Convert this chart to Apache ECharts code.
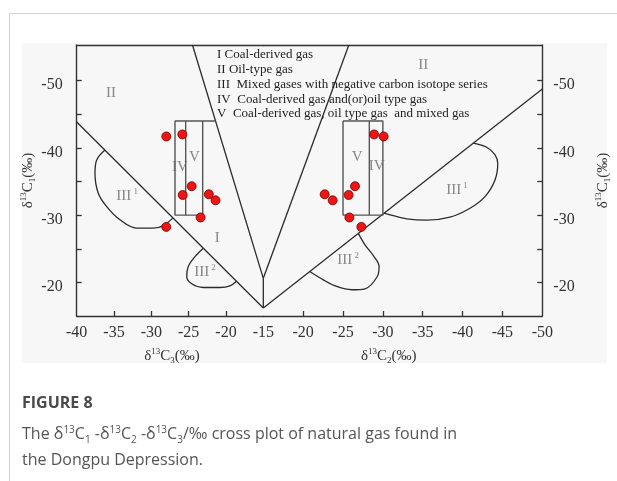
<!DOCTYPE html>
<html><head><meta charset="utf-8">
<script src="https://cdn.jsdelivr.net/npm/echarts@6/dist/echarts.min.js"></script>
<style>
html,body{margin:0;padding:0;width:617px;height:481px;background:#fff;overflow:hidden;position:relative;}
#frame{position:absolute;left:9px;top:13px;width:620px;height:480px;border-top:1px solid #d0d0d0;border-left:1px solid #d0d0d0;}
#img{position:absolute;left:22px;top:43px;width:585px;height:320px;background:#f7f7f7;}
#chart{position:absolute;left:0;top:0;width:617px;height:481px;}
.cap{position:absolute;left:22px;font-family:'Open Sans','Noto Sans',sans-serif;color:#555;white-space:nowrap;}
.cap sup,.cap sub{font-size:10px;line-height:0;}
</style></head>
<body>
<div id="frame"></div>
<div id="img"></div>
<div id="chart"></div>
<div class="cap" style="top:391px;font-size:16px;font-weight:bold;color:#4a4a4a;">FIGURE 8</div>
<div class="cap" style="top:420px;font-size:16px;line-height:26px;">The δ<sup>13</sup>C<sub>1</sub> -δ<sup>13</sup>C<sub>2</sub> -δ<sup>13</sup>C<sub>3</sub>/‰ cross plot of natural gas found in<br>the Dongpu Depression.</div>
<script>
// ---------- data ----------
const c1LabelVals = [-50, -40, -30, -20];
const c1TickVals = [-50, -45, -40, -35, -30, -25, -20];
const c3LabelVals = [-40, -35, -30, -25, -20, -15];
const c3TickVals = [-35, -30, -25, -20];
const c2LabelVals = [-20, -25, -30, -35, -40, -45, -50];
const c2TickVals = [-20, -25, -30, -35, -40, -45];

// samples (δ13C1, δ13C3, δ13C2)
const sampleC1 = [-41.7, -42.0, -34.3, -33.0, -33.1, -32.2, -29.65, -28.25];
const sampleC3 = [-28.0, -25.85, -24.6, -25.8, -22.3, -21.4, -23.4, -28.0];
const sampleC2 = [-30.1, -28.9, -26.5, -25.7, -22.7, -23.7, -25.8, -27.3];

// boundaries, left panel [δ13C3, δ13C1]
const leftOuter = [[-40, -43.86], [-15, -16.2]];
const leftInner = [[-24.49, -55.3], [-15, -20.6], [-15, -16.2]];
const leftBox = [[-21.4, -44], [-26.83, -44], [-26.83, -30], [-23.12, -30], [-23.12, -44]];
const leftBoxDiv = [[-25.4, -44], [-25.4, -30]];
const leftIII1 = [[-36.21, -39.67], [-37.32, -38.21], [-37.55, -36.24], [-37.11, -33.26], [-35.98, -31.27], [-34.2, -29.3], [-31.96, -28.06], [-29.74, -28.06], [-28.4, -28.45], [-27.1, -29.59]];
const leftIII2 = [[-23.04, -25.09], [-24.15, -23.84], [-25.05, -22.36], [-25.26, -20.87], [-24.59, -19.79], [-23.04, -19.24], [-20.8, -19.24], [-19.46, -19.49], [-18.59, -20.17]];

// boundaries, right panel [δ13C2, δ13C1]
const rightOuter = [[-15, -16.2], [-50, -48.76]];
const rightInner = [[-15, -20.6], [-25.73, -55.3]];
const rightBox = [[-25, -44], [-25, -30], [-30, -30], [-30, -44], [-25, -44]];
const rightBoxDiv = [[-28.3, -44], [-28.3, -30]];
const rightIII1 = [[-41.35, -40.71], [-43.03, -40.1], [-44.07, -38.96], [-44.41, -37.72], [-44.07, -35.24], [-42.81, -32.76], [-40.93, -31.03], [-38.42, -29.7], [-35.5, -29.25], [-32.99, -29.45], [-30.9, -30.04], [-30.14, -30.28]];
const rightIII2 = [[-26.92, -27.29], [-27.76, -25.58], [-28.89, -23.84], [-29.52, -22.36], [-29.3, -20.87], [-27.76, -19.04], [-26.09, -18.9], [-24.21, -19.39], [-22.53, -20.38], [-20.83, -21.62]];

// region labels
const leftRegionNames = ['II', 'I', 'III^1', 'III^2', 'IV', 'V'];
const leftRegionC3 = [-35.4, -21.16, -33.26, -22.81, -26.16, -24.24];
const leftRegionC1 = [-48.2, -26.58, -32.86, -21.57, -37.22, -38.58];
const rightRegionNames = ['II', 'III^1', 'III^2', 'V', 'IV'];
const rightRegionC2 = [-35.07, -39.3, -25.63, -26.79, -29.23];
const rightRegionC1 = [-52.33, -33.75, -23.35, -38.7, -37.32];

const legendLines = [
  'I Coal-derived gas',
  'II Oil-type gas',
  'III  Mixed gases with negative carbon isotope series',
  'IV  Coal-derived gas and(or)oil type gas',
  'V  Coal-derived gas, oil type gas  and mixed gas'
];

// ---------- chart ----------
const serif = '"Liberation Serif","Times New Roman",serif';
const ink = '#333';
const rich = {
  n: {fontFamily: serif, fontSize: 15, color: ink, lineHeight: 18},
  sup: {fontFamily: serif, fontSize: 9, color: ink, verticalAlign: 'top', lineHeight: 18},
  sub: {fontFamily: serif, fontSize: 9, color: ink, verticalAlign: 'bottom', lineHeight: 14}
};
const regRich = {
  r: {fontFamily: serif, fontSize: 15, color: '#6a6a6a', lineHeight: 18},
  s: {fontFamily: serif, fontSize: 9, color: '#6a6a6a', verticalAlign: 'top', lineHeight: 18}
};
function regFmt(p) {
  const parts = p.name.split('^');
  return parts.length > 1 ? '{r|' + parts[0] + '}{s| ' + parts[1] + '}' : '{r|' + parts[0] + '}';
}
function nm(sub) { return '{n|δ}{sup|13}{n|C}{sub|' + sub + '}{n|(‰)}'; }

const chart = echarts.init(document.getElementById('chart'));
const axLine = {show: true, lineStyle: {color: ink, width: 1.4}};
const yBase = {
  type: 'value', inverse: true, min: -55.3, max: -15,
  axisLine: axLine, splitLine: {show: false},
  axisTick: {show: true, inside: true, length: 5, customValues: c1TickVals, lineStyle: {color: ink, width: 1.3}},
  axisLabel: {customValues: c1LabelVals, fontFamily: serif, fontSize: 16, color: ink, verticalAlign: 'top', lineHeight: 9},
  nameLocation: 'middle', nameRotate: 90, nameTextStyle: {rich}
};
function lineSeries(data, xi, yi, smooth, color, width) {
  return {type: 'line', xAxisIndex: xi, yAxisIndex: yi, data, showSymbol: false, symbol: 'none',
    smooth: smooth ? 0.35 : false, clip: false, silent: true, z: 2,
    lineStyle: {color: color || '#2b2b2b', width: width || 1.3}};
}
const series = [
  lineSeries(leftOuter, 0, 0), lineSeries(leftInner, 0, 0),
  lineSeries(leftBox, 0, 0, false, '#555', 1.4), lineSeries(leftBoxDiv, 0, 0, false, '#555', 1.4),
  lineSeries(leftIII1, 0, 0, true), lineSeries(leftIII2, 0, 0, true),
  lineSeries(rightOuter, 1, 1), lineSeries(rightInner, 1, 1),
  lineSeries(rightBox, 1, 1, false, '#555', 1.4), lineSeries(rightBoxDiv, 1, 1, false, '#555', 1.4),
  lineSeries(rightIII1, 1, 1, true), lineSeries(rightIII2, 1, 1, true),
  {type: 'scatter', xAxisIndex: 0, yAxisIndex: 0, symbolSize: 0, silent: true, z: 3,
    data: leftRegionNames.map((n, i) => ({name: n, value: [leftRegionC3[i], leftRegionC1[i]]})),
    label: {show: true, position: 'inside', formatter: regFmt, rich: regRich}},
  {type: 'scatter', xAxisIndex: 1, yAxisIndex: 1, symbolSize: 0, silent: true, z: 3,
    data: rightRegionNames.map((n, i) => ({name: n, value: [rightRegionC2[i], rightRegionC1[i]]})),
    label: {show: true, position: 'inside', formatter: regFmt, rich: regRich}},
  {type: 'scatter', xAxisIndex: 0, yAxisIndex: 0, symbolSize: 9, z: 5, clip: false,
    data: sampleC3.map((v, i) => [v, sampleC1[i]]),
    itemStyle: {color: '#f01414', borderColor: '#6a0000', borderWidth: 0.8, opacity: 1}},
  {type: 'scatter', xAxisIndex: 1, yAxisIndex: 1, symbolSize: 9, z: 5, clip: false,
    data: sampleC2.map((v, i) => [v, sampleC1[i]]),
    itemStyle: {color: '#f01414', borderColor: '#6a0000', borderWidth: 0.8, opacity: 1}}
];
const legendCenters = [55, 70, 85, 99.5, 114];
const xLab = {margin: 9, fontFamily: serif, fontSize: 16, color: ink};
chart.setOption({
  backgroundColor: 'transparent',
  animation: false,
  grid: [
    {left: 76.7, top: 45, width: 186.6, height: 271},
    {left: 263.3, top: 45, width: 279, height: 271}
  ],
  xAxis: [
    {gridIndex: 0, type: 'value', min: -40, max: -15, position: 'bottom',
      axisLine: axLine, splitLine: {show: false},
      axisTick: {show: true, inside: true, length: 5, customValues: c3TickVals, lineStyle: {color: ink, width: 1.3}},
      axisLabel: Object.assign({customValues: c3LabelVals}, xLab),
      name: nm(3), nameLocation: 'middle', nameGap: 31, nameTextStyle: {rich, padding: [0, 0, 0, 4]}},
    {gridIndex: 1, type: 'value', min: -50, max: -15, inverse: true, position: 'bottom',
      axisLine: axLine, splitLine: {show: false},
      axisTick: {show: true, inside: true, length: 5, customValues: c2TickVals, lineStyle: {color: ink, width: 1.3}},
      axisLabel: Object.assign({customValues: c2LabelVals}, xLab),
      name: nm(2), nameLocation: 'middle', nameGap: 31, nameTextStyle: {rich, padding: [0, 28, 0, 0]}},
    {gridIndex: 0, type: 'value', min: -40, max: -15, position: 'top',
      axisLine: axLine, axisTick: {show: false}, axisLabel: {show: false}, splitLine: {show: false}},
    {gridIndex: 1, type: 'value', min: -50, max: -15, inverse: true, position: 'top',
      axisLine: axLine, axisTick: {show: false}, axisLabel: {show: false}, splitLine: {show: false}}
  ],
  yAxis: [
    Object.assign({}, yBase, {gridIndex: 0, position: 'left', name: nm(1), nameGap: 40,
      axisLabel: Object.assign({}, yBase.axisLabel, {margin: 14})}),
    Object.assign({}, yBase, {gridIndex: 1, position: 'right', name: nm(1), nameGap: 52,
      axisLabel: Object.assign({}, yBase.axisLabel, {margin: 11})})
  ],
  graphic: legendLines.map((t, i) => ({
    type: 'text', x: 217, y: legendCenters[i], silent: true, z: 10,
    style: {text: t, font: '13px ' + serif, fill: '#222', verticalAlign: 'middle', align: 'left'}
  })),
  series
});
</script>
</body></html>
